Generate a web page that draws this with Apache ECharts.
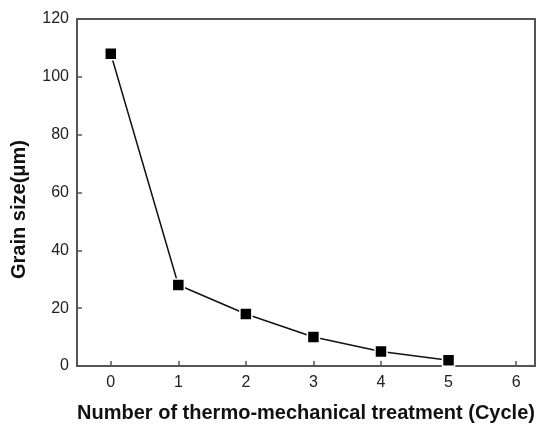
<!DOCTYPE html>
<html>
<head>
<meta charset="UTF-8">
<title>Grain size</title>
<script src="https://cdn.jsdelivr.net/npm/echarts@6/dist/echarts.min.js"></script>
<style>
  html, body { margin: 0; padding: 0; background: #fff; }
  #chart { width: 541px; height: 425px; }
</style>
</head>
<body>
<div id="chart"></div>
<script>
  // cycles and measured grain size
  const cycles = [0, 1, 2, 3, 4, 5];
  const grainSize = [108, 28, 18, 10, 5, 2];
  const xTicks = [0, 1, 2, 3, 4, 5, 6];

  const points = cycles.map((c, i) => [c, grainSize[i]]);

  const chart = echarts.init(document.getElementById('chart'));
  chart.setOption({
    animation: false,
    grid: {
      left: 77, top: 19, right: 6, bottom: 59,
      outerBoundsMode: 'none',
      show: true, borderColor: '#555', borderWidth: 2
    },
    xAxis: {
      type: 'value',
      min: -0.5, max: 6.28,
      name: 'Number of thermo-mechanical treatment (Cycle)',
      nameLocation: 'middle',
      nameGap: 37,
      nameTextStyle: { fontFamily: 'Liberation Sans', fontWeight: 'bold', fontSize: 20, color: '#111' },
      axisLine: { onZero: false, lineStyle: { color: '#555', width: 2 } },
      axisTick: { inside: true, length: 5, customValues: xTicks, lineStyle: { color: '#555', width: 1.5 } },
      axisLabel: { customValues: xTicks, margin: 9, fontFamily: 'Liberation Sans', fontSize: 16, color: '#222' },
      splitLine: { show: false }
    },
    yAxis: {
      type: 'value',
      min: 0, max: 120, interval: 20,
      name: 'Grain size(μm)',
      nameLocation: 'middle',
      nameGap: 48,
      nameTextStyle: { fontFamily: 'Liberation Sans', fontWeight: 'bold', fontSize: 20, color: '#111', padding: [0, 34, 0, 0] },
      axisLine: { onZero: false, lineStyle: { color: '#555', width: 2 } },
      axisTick: { inside: true, length: 5, lineStyle: { color: '#555', width: 1.5 } },
      axisLabel: { margin: 8, fontFamily: 'Liberation Sans', fontSize: 16, color: '#222' },
      splitLine: { show: false }
    },
    series: [{
      type: 'line',
      data: points,
      symbol: 'rect',
      symbolSize: 12,
      lineStyle: { color: '#111', width: 1.5 },
      itemStyle: { color: '#000', borderColor: '#fff', borderWidth: 1.5 }
    }]
  });
</script>
</body>
</html>
